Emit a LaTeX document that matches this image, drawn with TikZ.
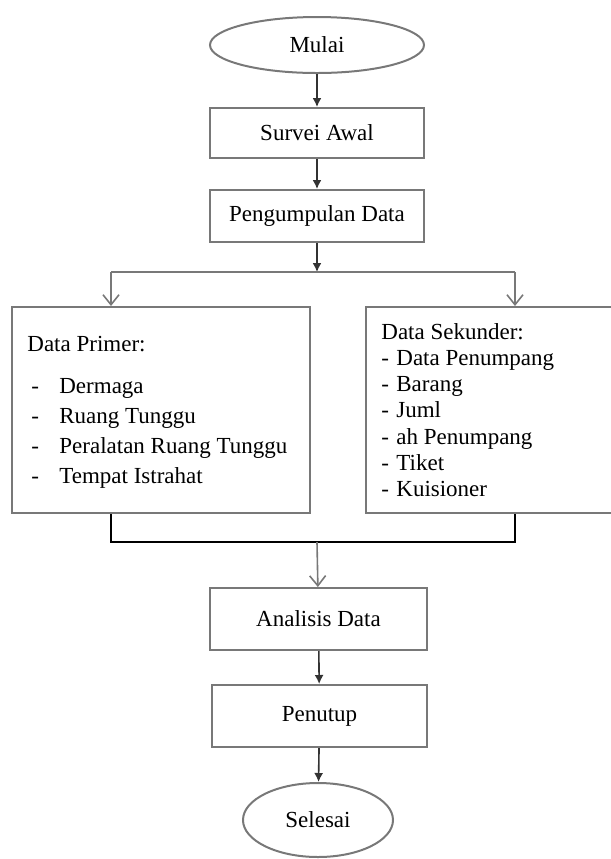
\documentclass[tikz,border=0pt]{standalone}
\usepackage{fontspec}
\setmainfont{Liberation Serif}
\usetikzlibrary{shapes.geometric,arrows.meta}

\definecolor{garisabu}{RGB}{120,120,120}

\tikzset{
	kotak/.style={draw=garisabu, line width=1pt, minimum width=107pt, inner sep=0pt},
	ujung/.style={ellipse, draw=garisabu, line width=1pt, inner sep=0pt},
	teks/.style={anchor=base west, inner sep=0pt},
	maju/.style={draw=black!80, line width=0.8pt, -{Latex[length=4.5pt,width=4.5pt]}},
	pecah/.style={draw=garisabu, line width=0.8pt, -{Straight Barb[length=5pt,width=8pt]}},
	garis/.style={draw=garisabu, line width=1.2pt}
}

\begin{document}
\begin{tikzpicture}[x=0.5pt,y=-0.5pt,font=\fontsize{11.5}{13}\selectfont]
\useasboundingbox (0,0) rectangle (611,859);
%
	\node[ujung, minimum width=107pt, minimum height=28pt] (mulai) at (317,45) {Mulai};
	\node[kotak, minimum height=25pt] (survei) at (317,133) {Survei Awal};
	\node[kotak, minimum height=26pt] (kumpul) at (317,216) {Pengumpulan Data};
	\node[kotak, minimum width=149pt, minimum height=103pt] (primer) at (161,410) {};
	\node[kotak, minimum width=125pt, minimum height=103pt] (sekunder) at (491,410) {};
	\node[kotak, minimum width=108.5pt, minimum height=31pt] (analisis) at (318.5,619) {Analisis Data};
	\node[kotak, minimum width=107.5pt, minimum height=31pt] (penutup) at (319.5,716) {Penutup};
	\node[ujung, minimum width=75pt, minimum height=37pt] (selesai) at (318,820) {Selesai};
%
	\node[teks] (judulp) at (27,351) {Data Primer:};
	\foreach \isi [count=\i] in {Dermaga, Ruang Tunggu, Peralatan Ruang Tunggu, Tempat Istrahat}
		\node[teks] (p\i) at (31,363+30*\i) {\makebox[14pt][l]{-}\isi};
	\node[teks] (juduls) at (381,339) {Data Sekunder:};
	\foreach \isi [count=\i] in {Data Penumpang, Barang, Juml, ah Penumpang, Tiket, Kuisioner}
		\node[teks] (s\i) at (381,339+26.3*\i) {\makebox[7.5pt][l]{-}\isi};
%
	\coordinate (cabang) at (317,272);
	\coordinate (kiri) at (111,272);
	\coordinate (kanan) at (515,272);
	\coordinate (gabung) at (317,542);
	\coordinate (kiribawah) at (111,542);
	\coordinate (kananbawah) at (515,542);
%
	\draw[maju] (mulai) -- (survei);
	\draw[maju] (survei) -- (kumpul);
	\draw[maju] (kumpul) -- (cabang);
	\draw[garis] (kiri) -- (kanan);
	\draw[pecah] (kiri) -- (kiri |- primer.north);
	\draw[pecah] (kanan) -- (kanan |- sekunder.north);
	\draw[line width=1.2pt] (kiribawah |- primer.south) -- (kiribawah) -- (kananbawah) -- (kananbawah |- sekunder.south);
	\draw[pecah] (gabung) -- (analisis);
	\draw[maju] (analisis) -- (penutup);
	\draw[maju] (penutup) -- (selesai);
\end{tikzpicture}
\end{document}
